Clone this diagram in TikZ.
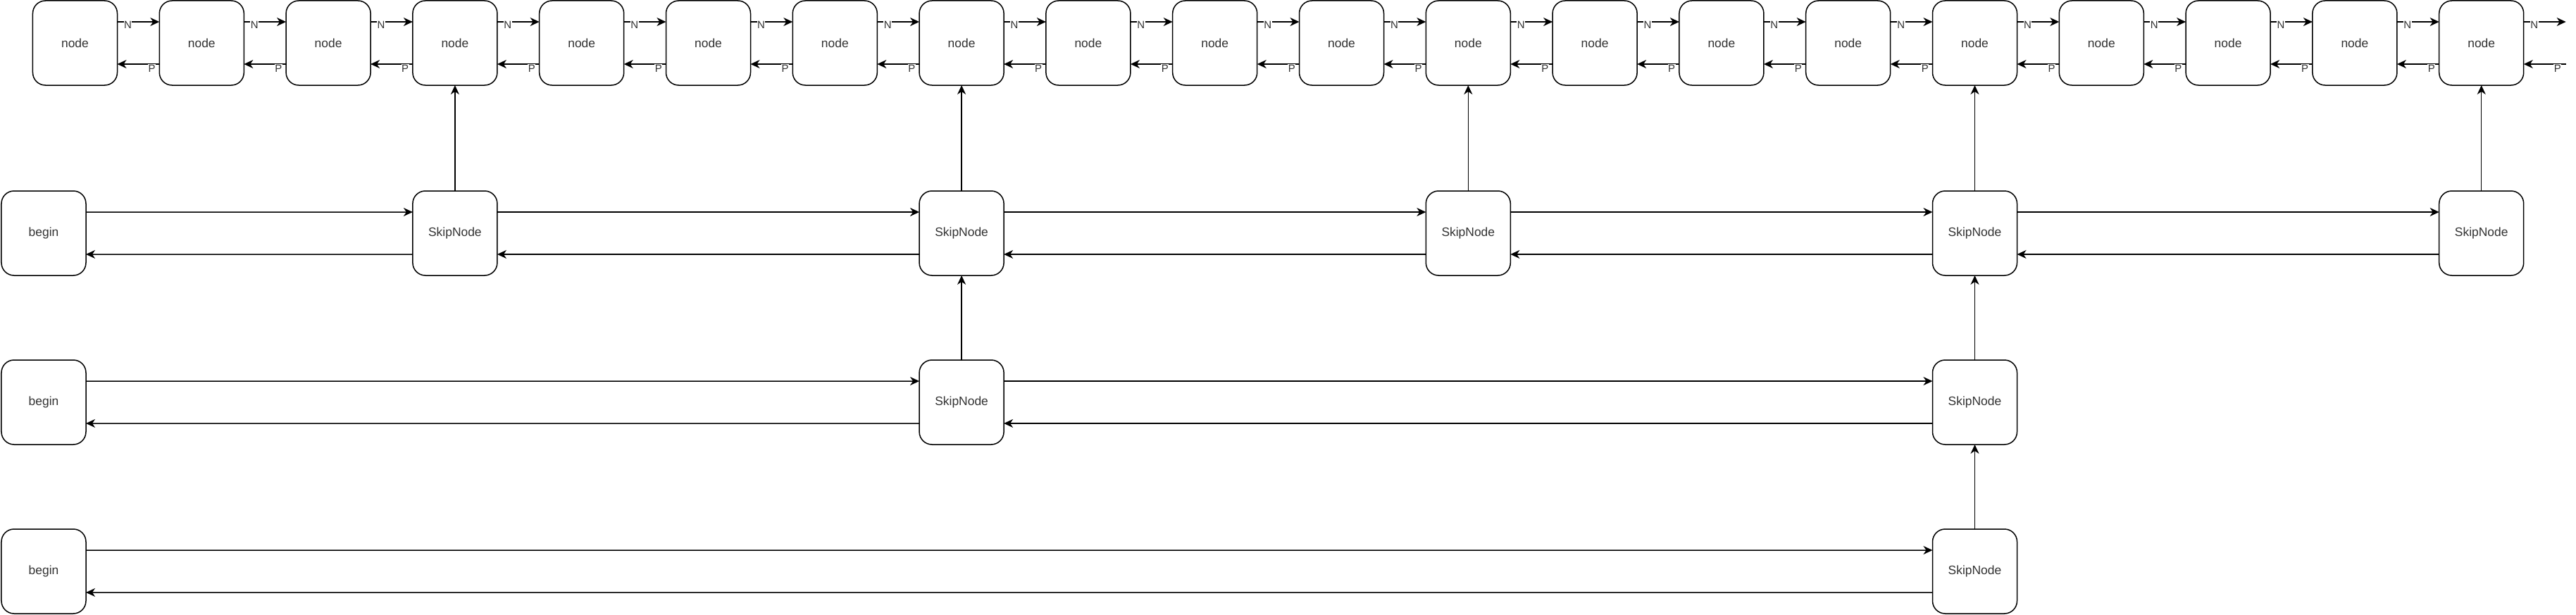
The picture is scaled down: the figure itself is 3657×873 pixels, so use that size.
\documentclass[tikz,border=0pt]{standalone}
\usepackage{fontspec}
\setmainfont{Liberation Sans}
\usetikzlibrary{arrows.meta, positioning}

\begin{document}
\begin{tikzpicture}[
		x=1bp, y=-1bp,
		>={Stealth[length=13bp,width=12bp,inset=4bp]},
		every node/.style={font=\fontsize{17.5}{21}\selectfont, text=black!80},
		block/.style={draw=black, rectangle, rounded corners=18bp, minimum height=120bp, minimum width=120bp, inner sep=0pt, outer sep=0pt, align=center, fill=white, line width=1.5bp},
		link/.style={->, line width=1.5bp},
		lbl/.style={font=\fontsize{15}{18}\selectfont, fill=white, inner sep=0.5bp}
		]
		\useasboundingbox (0,0) rectangle (3657,873);
		
		% --- Top row: the plain list ---
		\foreach \i in {1,...,20}
			\node[block] (n\i) at ({106.5+179.8*(\i-1)}, 61) {node};
		
		% --- Begin nodes, one per level ---
		\node[block] (ba) at (62,331) {begin};
		\node[block, below=120bp of ba] (bb) {begin};
		\node[block, below=120bp of bb] (bc) {begin};
		
		% --- Skip nodes: level 1, 2, 3 ---
		\node[block, below=150bp of n4] (sa4) {SkipNode};
		\node[block, below=150bp of n8] (sa8) {SkipNode};
		\node[block, below=150bp of n12] (sa12) {SkipNode};
		\node[block, below=150bp of n16] (sa16) {SkipNode};
		\node[block, below=150bp of n20] (sa20) {SkipNode};
		\node[block, below=120bp of sa8] (sb8) {SkipNode};
		\node[block, below=120bp of sa16] (sb16) {SkipNode};
		\node[block, below=120bp of sb16] (sc16) {SkipNode};
		
		% --- Next / prev links of the list ---
		\foreach \i [count=\j from 2] in {1,...,19} {
			\draw[link] ([yshift=30bp]n\i.east) -- node[lbl, pos=0.25, yshift=-4bp]{N} ([yshift=30bp]n\j.west);
			\draw[link] ([yshift=-30bp]n\j.west) -- node[lbl, pos=0.18, yshift=-6bp]{P} ([yshift=-30bp]n\i.east);
		}
		\coordinate (outN) at ([xshift=60bp, yshift=30bp]n20.east);
		\coordinate (outP) at ([xshift=60bp, yshift=-30bp]n20.east);
		\draw[link] ([yshift=30bp]n20.east) -- node[lbl, pos=0.25, yshift=-4bp]{N} (outN);
		\draw[link] (outP) -- node[lbl, pos=0.2, yshift=-6bp]{P} ([yshift=-30bp]n20.east);
		
		% --- Links along each skip level ---
		\foreach \a/\b in {ba/sa4, sa4/sa8, sa8/sa12, sa12/sa16, sa16/sa20, bb/sb8, sb8/sb16, bc/sc16} {
			\draw[link] ([yshift=30bp]\a.east) -- ([yshift=30bp]\b.west);
			\draw[link] ([yshift=-30bp]\b.west) -- ([yshift=-30bp]\a.east);
		}
		
		% --- Down links (drawn upwards) ---
		\foreach \a/\b in {sa4/n4, sa8/n8, sa12/n12, sa16/n16, sa20/n20, sb8/sa8, sb16/sa16, sc16/sb16}
			\draw[link] (\a) -- (\b);
	\end{tikzpicture}
\end{document}
